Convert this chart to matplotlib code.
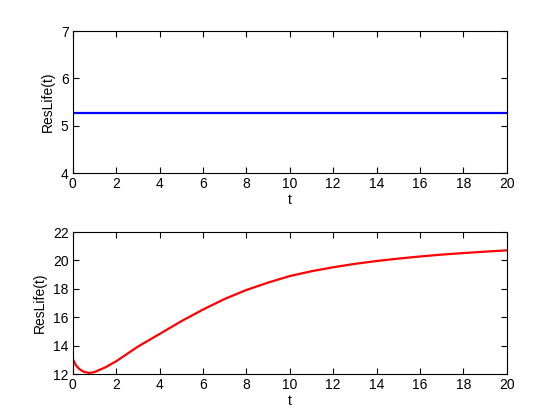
import matplotlib
matplotlib.use("Agg")
import matplotlib.pyplot as plt

# Top panel: constant residual life
t_top = [0, 20]
res_top = [5.27, 5.27]

# Bottom panel: residual life curve
t_bot = [0, 0.08, 0.15, 0.3, 0.5, 0.75, 1.0, 1.5, 2, 3, 4, 5, 6, 7, 8, 9, 10,
         11, 12, 13, 14, 15, 16, 17, 18, 19, 20]
res_bot = [13.06, 12.8, 12.6, 12.35, 12.16, 12.07, 12.14, 12.47, 12.9, 13.93,
           14.82, 15.72, 16.54, 17.29, 17.92, 18.44, 18.9, 19.24, 19.52, 19.76,
           19.96, 20.13, 20.28, 20.41, 20.52, 20.62, 20.71]

x_ticks = list(range(0, 21, 2))
y_ticks_top = [4, 5, 6, 7]
y_ticks_bot = [12, 14, 16, 18, 20, 22]

plt.rcParams['font.family'] = ['Liberation Sans', 'DejaVu Sans']
plt.rcParams['font.size'] = 10

fig = plt.figure(figsize=(5.6, 4.2), dpi=100)
ax1 = fig.add_axes([0.13, 0.588, 0.775, 0.338])
ax2 = fig.add_axes([0.13, 0.1095, 0.775, 0.338])

ax1.plot(t_top, res_top, color='#0000ff', linewidth=1.6)
ax1.set_xlim(0, 20)
ax1.set_ylim(4, 7)
ax1.set_xticks(x_ticks)
ax1.set_yticks(y_ticks_top)
ax1.set_xlabel('t', labelpad=1)
ax1.set_ylabel('ResLife(t)')

ax2.plot(t_bot, res_bot, color='#ff0000', linewidth=1.6)
ax2.set_xlim(0, 20)
ax2.set_ylim(12, 22)
ax2.set_xticks(x_ticks)
ax2.set_yticks(y_ticks_bot)
ax2.set_xlabel('t', labelpad=1)
ax2.set_ylabel('ResLife(t)')

for ax in (ax1, ax2):
    ax.tick_params(direction='in', top=True, right=True, length=4, width=0.8, pad=3)
    for s in ax.spines.values():
        s.set_linewidth(0.8)

fig.savefig('out.png', dpi=100)
